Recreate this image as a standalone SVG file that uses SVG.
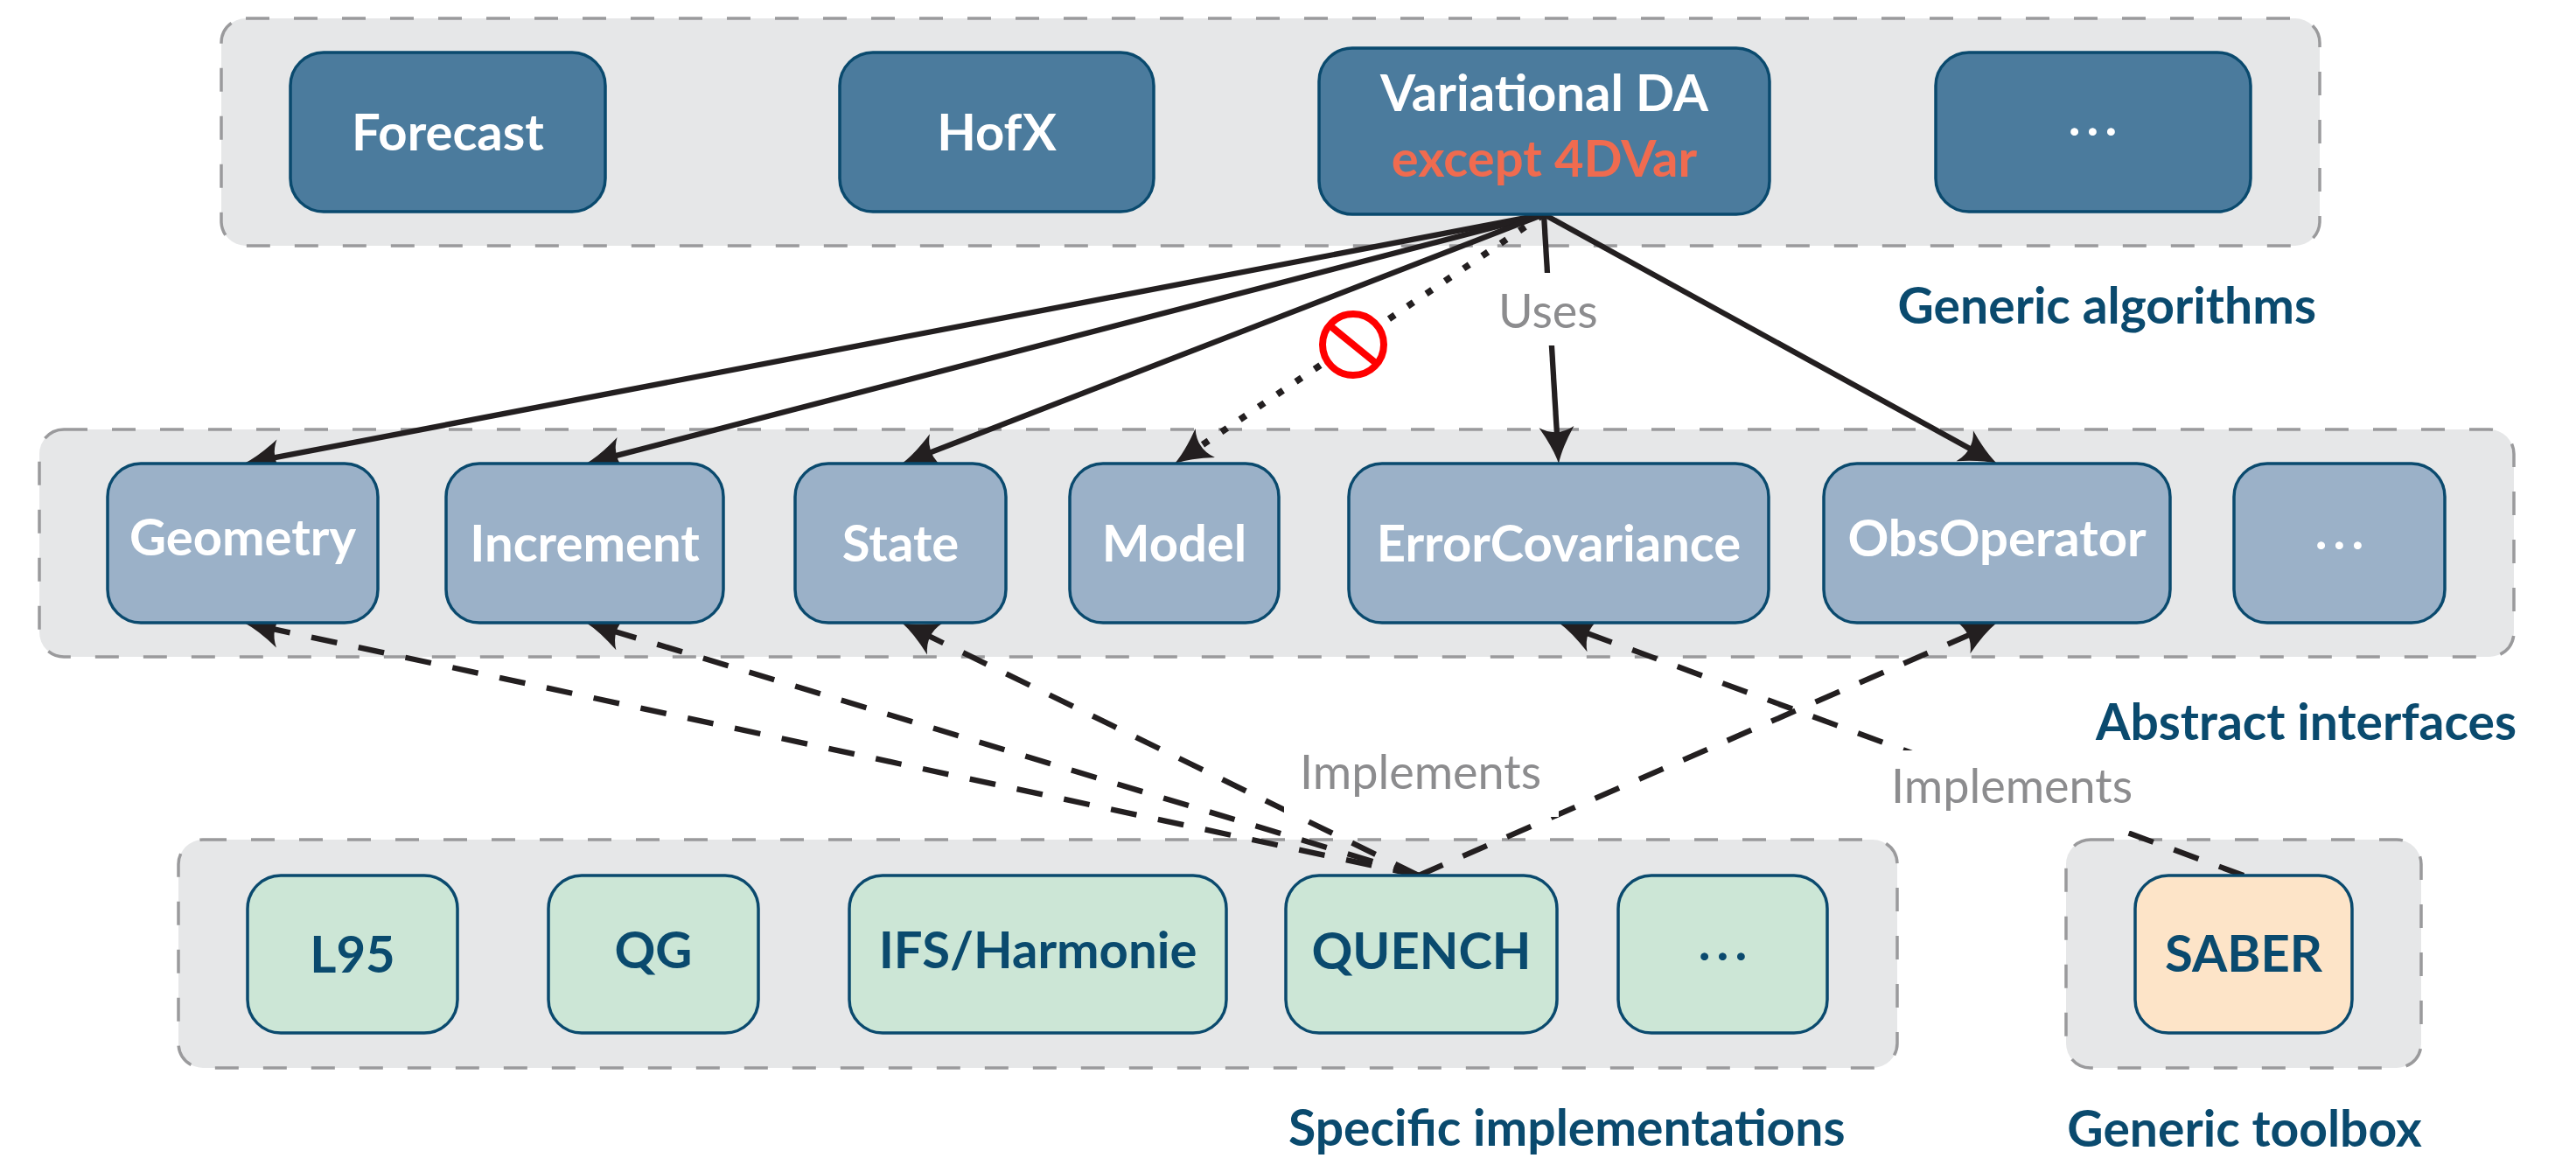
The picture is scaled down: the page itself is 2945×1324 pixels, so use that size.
<svg xmlns="http://www.w3.org/2000/svg" width="2945" height="1324" viewBox="0 0 2945 1324">
<defs>
<style>
.cont{fill:#e6e7e8;stroke:#9a9a9c;stroke-width:3.5;stroke-dasharray:27 28}
.node{stroke:#0a4a6e;stroke-width:3.5}
.top{fill:#4b7b9d}
.mid{fill:#9bb1c8}
.bot{fill:#cce6d6}
.tool{fill:#fde4c8}
.nt{font-family:Lato,"Open Sans","Liberation Sans",sans-serif;font-weight:700;font-size:58px;text-anchor:middle}
.dots{letter-spacing:7px}
.w{fill:#ffffff}
.b{fill:#0a4a6e}
.sec{font-family:Lato,"Open Sans","Liberation Sans",sans-serif;font-weight:700;font-size:57px;fill:#0a4a6e}
.gl{font-family:Lato,"Open Sans","Liberation Sans",sans-serif;font-weight:400;font-size:54px;fill:#8c8c8e}
.ln{fill:none;stroke:#231f20;stroke-width:6.3}
.dash{stroke-dasharray:30 25}
.dot{stroke-width:7.5;stroke-dasharray:8 17.7}
</style>
<marker id="ah" markerUnits="userSpaceOnUse" viewBox="-50 -25 60 50" refX="-28" refY="0" markerWidth="60" markerHeight="50" orient="auto">
<path d="M0,0 Q-18,-5 -42,-20 Q-30,0 -42,20 Q-18,5 0,0 Z" fill="#231f20"/>
</marker>
</defs>
<rect width="2945" height="1324" fill="#ffffff"/>
<g id="containers">
<rect id="generic-algorithms-box" class="cont" x="253" y="21" width="2399" height="260" rx="28"/>
<rect id="abstract-interfaces-box" class="cont" x="45" y="491" width="2829" height="260" rx="28"/>
<rect id="specific-implementations-box" class="cont" x="204" y="960" width="1965" height="261" rx="28"/>
<rect id="generic-toolbox-box" class="cont" x="2362" y="960" width="406" height="261" rx="28"/>
</g>
<g id="connectors">
<line class="ln" x1="1765" y1="245" x2="306.5" y2="524.7" marker-end="url(#ah)"/>
<line class="ln" x1="1765" y1="245" x2="697.1" y2="522.9" marker-end="url(#ah)"/>
<line class="ln" x1="1765" y1="245" x2="1057.1" y2="519.9" marker-end="url(#ah)"/>
<line class="ln dot" x1="1765" y1="245" x2="1366.2" y2="514.3" marker-end="url(#ah)"/>
<line class="ln" x1="1765" y1="245" x2="1780.3" y2="502.1" marker-end="url(#ah)"/>
<line class="ln" x1="1765" y1="245" x2="2258.5" y2="516.5" marker-end="url(#ah)"/>
<line class="ln dash" x1="1622" y1="1001" x2="306.4" y2="717.9" marker-end="url(#ah)"/>
<line class="ln dash" x1="1622" y1="1001" x2="696.8" y2="720.1" marker-end="url(#ah)"/>
<line class="ln dash" x1="1622" y1="1001" x2="1056.2" y2="724.3" marker-end="url(#ah)"/>
<line class="ln dash" x1="1622" y1="1001" x2="2257.3" y2="723.2" marker-end="url(#ah)"/>
<line class="ln dash" x1="2565" y1="1001" x2="1808.3" y2="721.7" marker-end="url(#ah)"/>
<g id="forbidden">
<circle cx="1547" cy="394" r="35" fill="#ffffff" stroke="#ff0000" stroke-width="8"/>
<line x1="1520" y1="372" x2="1574" y2="416" stroke="#ff0000" stroke-width="8"/>
</g>
<g id="uses-label">
<rect x="1695" y="312" width="143" height="83" fill="#ffffff"/>
<text class="gl" x="1713" y="375">Uses</text>
</g>
<g id="implements-label-1">
<rect x="1468" y="842" width="314" height="92" fill="#ffffff"/>
<text class="gl" x="1486" y="902">Implements</text>
</g>
<g id="implements-label-2">
<rect x="2144" y="858" width="313" height="92" fill="#ffffff"/>
<text class="gl" x="2162" y="918">Implements</text>
</g>
</g>
<g id="n-forecast"><rect class="node top" x="332" y="60" width="360" height="182" rx="38"/><text class="nt w" x="512" y="172">Forecast</text></g>
<g id="n-hofx"><rect class="node top" x="960" y="60" width="359" height="182" rx="38"/><text class="nt w" x="1139.5" y="172">HofX</text></g>
<g id="n-variational"><rect class="node top" x="1508" y="55" width="515" height="190" rx="38"/><text class="nt w" x="1765.5" y="127">Variational DA</text><text class="nt" x="1765.5" y="202" fill="#f06b4f">except 4DVar</text></g>
<g id="n-alg-more"><rect class="node top" x="2213" y="60" width="360" height="182" rx="38"/><text class="nt w dots" x="2396" y="155">...</text></g>
<g id="n-geometry"><rect class="node mid" x="123" y="530" width="309" height="182" rx="38"/><text class="nt w" x="277.5" y="635">Geometry</text></g>
<g id="n-increment"><rect class="node mid" x="510" y="530" width="317" height="182" rx="38"/><text class="nt w" x="668.5" y="642">Increment</text></g>
<g id="n-state"><rect class="node mid" x="909" y="530" width="241" height="182" rx="38"/><text class="nt w" x="1029.5" y="642">State</text></g>
<g id="n-model"><rect class="node mid" x="1223" y="530" width="239" height="182" rx="38"/><text class="nt w" x="1342.5" y="642">Model</text></g>
<g id="n-errorcov"><rect class="node mid" x="1542" y="530" width="480" height="182" rx="38"/><text class="nt w" x="1782" y="642">ErrorCovariance</text></g>
<g id="n-obsop"><rect class="node mid" x="2085" y="530" width="396" height="182" rx="38"/><text class="nt w" x="2283" y="636">ObsOperator</text></g>
<g id="n-if-more"><rect class="node mid" x="2554" y="530" width="241" height="182" rx="38"/><text class="nt w dots" x="2678" y="628">...</text></g>
<g id="n-l95"><rect class="node bot" x="283" y="1001" width="240" height="180" rx="38"/><text class="nt b" x="403" y="1112">L95</text></g>
<g id="n-qg"><rect class="node bot" x="627" y="1001" width="240" height="180" rx="38"/><text class="nt b" x="747" y="1107">QG</text></g>
<g id="n-ifs"><rect class="node bot" x="971" y="1001" width="431" height="180" rx="38"/><text class="nt b" x="1186.5" y="1107">IFS/Harmonie</text></g>
<g id="n-quench"><rect class="node bot" x="1470" y="1001" width="310" height="180" rx="38"/><text class="nt b" x="1625" y="1108">QUENCH</text></g>
<g id="n-impl-more"><rect class="node bot" x="1850" y="1001" width="239" height="180" rx="38"/><text class="nt b dots" x="1973" y="1098">...</text></g>
<g id="n-saber"><rect class="node tool" x="2441" y="1001" width="248" height="180" rx="38"/><text class="nt b" x="2565" y="1111">SABER</text></g>
<g id="section-labels">
<text class="sec" x="2648" y="370" text-anchor="end">Generic algorithms</text>
<text class="sec" x="2877" y="846" text-anchor="end">Abstract interfaces</text>
<text class="sec" x="1473" y="1310">Specific implementations</text>
<text class="sec" x="2566" y="1311" text-anchor="middle">Generic toolbox</text>
</g>
</svg>
